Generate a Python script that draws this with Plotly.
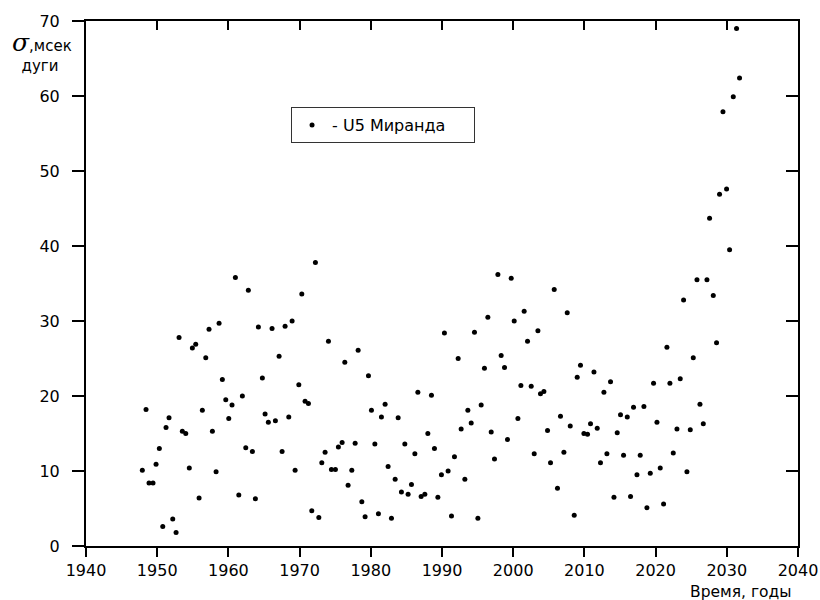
import plotly.graph_objects as go

years = [
    1947.91, 1948.43, 1948.85, 1949.41, 1949.84, 1950.30, 1950.78, 1951.24, 1951.66, 1952.18,
    1952.65, 1953.07, 1953.53, 1954.01, 1954.51, 1954.94, 1955.41, 1955.88, 1956.34, 1956.82,
    1957.28, 1957.75, 1958.27, 1958.69, 1959.15, 1959.63, 1960.05, 1960.51, 1960.98, 1961.46,
    1961.96, 1962.44, 1962.80, 1963.37, 1963.79, 1964.21, 1964.77, 1965.15, 1965.61, 1966.13,
    1966.60, 1967.12, 1967.54, 1967.96, 1968.48, 1968.95, 1969.37, 1969.89, 1970.31, 1970.77,
    1971.24, 1971.71, 1972.22, 1972.70, 1973.12, 1973.58, 1974.05, 1974.47, 1975.03, 1975.45,
    1975.97, 1976.35, 1976.81, 1977.33, 1977.80, 1978.22, 1978.74, 1979.20, 1979.67, 1980.09,
    1980.57, 1981.07, 1981.49, 1982.01, 1982.43, 1982.90, 1983.42, 1983.84, 1984.30, 1984.78,
    1985.24, 1985.71, 1986.19, 1986.61, 1987.07, 1987.59, 1988.01, 1988.52, 1988.94, 1989.42,
    1989.92, 1990.34, 1990.86, 1991.33, 1991.75, 1992.27, 1992.69, 1993.21, 1993.63, 1994.10,
    1994.56, 1995.04, 1995.50, 1995.96, 1996.44, 1996.91, 1997.37, 1997.85, 1998.31, 1998.78,
    1999.20, 1999.72, 2000.14, 2000.66, 2001.08, 2001.54, 2002.01, 2002.53, 2002.95, 2003.47,
    2003.83, 2004.31, 2004.82, 2005.24, 2005.76, 2006.22, 2006.64, 2007.12, 2007.59, 2008.01,
    2008.57, 2008.99, 2009.45, 2009.93, 2010.44, 2010.86, 2011.34, 2011.80, 2012.26, 2012.74,
    2013.16, 2013.67, 2014.15, 2014.61, 2015.07, 2015.50, 2016.02, 2016.48, 2016.90, 2017.38,
    2017.84, 2018.36, 2018.78, 2019.25, 2019.71, 2020.19, 2020.65, 2021.12, 2021.59, 2022.01,
    2022.48, 2023.00, 2023.46, 2023.93, 2024.40, 2024.87, 2025.29, 2025.81, 2026.23, 2026.70,
    2027.21, 2027.58, 2028.10, 2028.56, 2028.98, 2029.46, 2029.97, 2030.39, 2030.91, 2031.37,
    2031.79,
]

sigma = [
    10.1, 18.2, 8.4, 8.4, 10.9, 13.0, 2.6, 15.8, 17.1, 3.6,
    1.8, 27.8, 15.3, 15.0, 10.4, 26.4, 26.9, 6.4, 18.1, 25.1,
    28.9, 15.3, 9.9, 29.7, 22.2, 19.5, 17.0, 18.8, 35.8, 6.8,
    20.0, 13.1, 34.1, 12.6, 6.3, 29.2, 22.4, 17.6, 16.5, 29.0,
    16.7, 25.3, 12.6, 29.3, 17.2, 30.0, 10.1, 21.5, 33.6, 19.3,
    19.0, 4.7, 37.8, 3.8, 11.1, 12.5, 27.3, 10.2, 10.2, 13.2,
    13.8, 24.5, 8.1, 10.1, 13.7, 26.1, 5.9, 3.9, 22.7, 18.1,
    13.6, 4.3, 17.2, 18.9, 10.6, 3.7, 8.9, 17.1, 7.2, 13.6,
    6.9, 8.2, 12.3, 20.5, 6.6, 6.9, 15.0, 20.1, 13.0, 6.5,
    9.5, 28.4, 10.0, 4.0, 11.9, 25.0, 15.6, 8.9, 18.1, 16.4,
    28.5, 3.7, 18.8, 23.7, 30.5, 15.2, 11.6, 36.2, 25.4, 23.8,
    14.2, 35.7, 30.0, 17.0, 21.4, 31.3, 27.3, 21.3, 12.3, 28.7,
    20.3, 20.6, 15.4, 11.1, 34.2, 7.7, 17.3, 12.5, 31.1, 16.0,
    4.1, 22.5, 24.1, 15.0, 14.9, 16.3, 23.2, 15.7, 11.1, 20.5,
    12.3, 21.9, 6.5, 15.1, 17.5, 12.1, 17.2, 6.6, 18.5, 9.5,
    12.1, 18.6, 5.1, 9.7, 21.7, 16.5, 10.4, 5.6, 26.5, 21.7,
    12.4, 15.6, 22.3, 32.8, 9.9, 15.5, 25.1, 35.5, 18.9, 16.3,
    35.5, 43.7, 33.4, 27.1, 46.9, 57.9, 47.6, 39.5, 59.9, 69.0,
    62.4,
]

x_ticks = [1940, 1950, 1960, 1970, 1980, 1990, 2000, 2010, 2020, 2030, 2040]
y_ticks = [0, 10, 20, 30, 40, 50, 60, 70]
series_name = "- U5 Миранда"

FONT = "DejaVu Sans"

fig = go.Figure()
fig.add_trace(go.Scatter(
    x=years, y=sigma, mode="markers", name=series_name,
    marker=dict(color="black", size=5, symbol="circle"),
))

base_axis = dict(showgrid=False, zeroline=False, showline=True, linecolor="black",
                 linewidth=2, tickcolor="black", tickwidth=2, automargin=False)

fig.update_layout(
    width=820, height=600,
    paper_bgcolor="white", plot_bgcolor="white",
    margin=dict(l=86, r=22, t=21, b=54),
    font=dict(family=FONT, size=16, color="black"),
    showlegend=True,
    legend=dict(x=0.288, y=0.836, xanchor="left", yanchor="top", orientation="h",
                bordercolor="#333333", borderwidth=1, bgcolor="white",
                font=dict(family=FONT, size=16), entrywidth=137),
    xaxis=dict(range=[1940, 2040], tickvals=x_ticks, ticks="outside", ticklen=9,
               ticklabelstandoff=0, **base_axis),
    yaxis=dict(range=[0, 70], tickvals=y_ticks, ticks="outside", ticklen=12,
               ticklabelstandoff=9, **base_axis),
    xaxis2=dict(range=[1940, 2040], tickvals=x_ticks, ticks="inside", ticklen=9,
                overlaying="x", side="top", showticklabels=False, **base_axis),
    yaxis2=dict(range=[0, 70], tickvals=y_ticks, ticks="inside", ticklen=12,
                overlaying="y", side="right", showticklabels=False, **base_axis),
)

# empty trace so the mirrored axes are drawn
fig.add_trace(go.Scatter(x=[], y=[], xaxis="x2", yaxis="y2", showlegend=False, hoverinfo="skip"))

fig.add_annotation(
    xref="paper", yref="paper", x=-0.1068, y=0.99,
    text="<span style='font-family:DejaVu Serif;font-size:25px'><i>σ</i></span>"
         "<span style='font-size:15px'>,мсек</span><br>"
         "<span style='font-size:15px'>&nbsp;&nbsp;дуги</span>",
    showarrow=False, font=dict(family=FONT, size=15),
    xanchor="left", yanchor="top", align="left",
)
fig.add_annotation(xref="paper", yref="paper", x=0.993, y=-0.088, text="Время, годы",
                   showarrow=False, font=dict(family=FONT, size=15.5),
                   xanchor="right", yanchor="middle")

fig.write_html("out.html", config={"displayModeBar": False},
               post_script="document.body.style.margin='0';document.body.style.overflow='hidden';")
